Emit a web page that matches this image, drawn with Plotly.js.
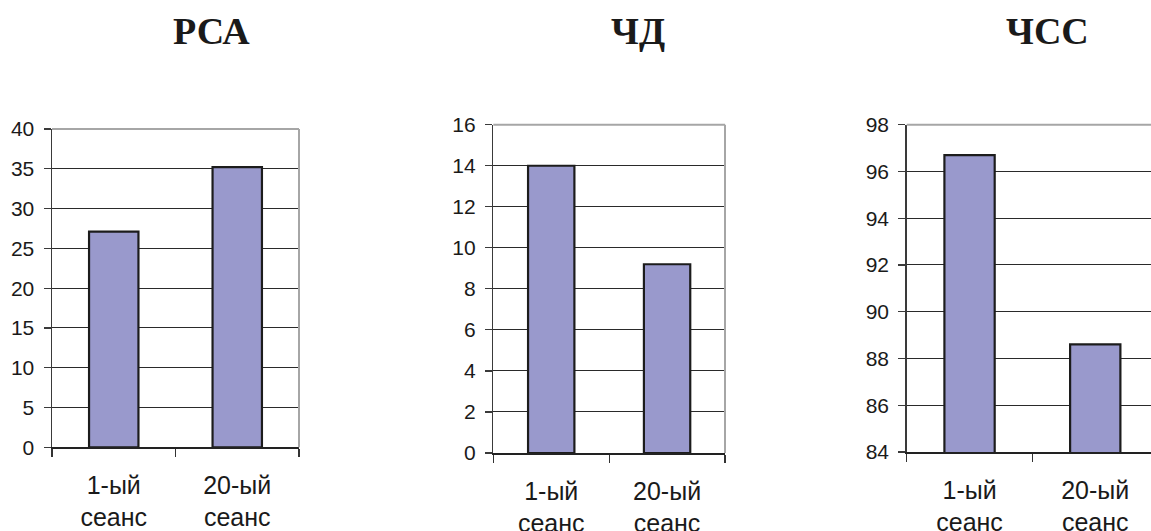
<!DOCTYPE html>
<html>
<head>
<meta charset="utf-8">
<script src="https://cdn.plot.ly/plotly-3.0.1.min.js"></script>
<style>
  html, body { margin: 0; padding: 0; background: #ffffff; }
  #chart { width: 1151px; height: 531px; }
</style>
</head>
<body>
<div id="chart"></div>
<script>
// Sessions compared in each panel
const sessions = ['1-ый<br>сеанс', '20-ый<br>сеанс'];

// Panel titles
const titles = ['РСА', 'ЧД', 'ЧСС'];

// Values per panel (1st session, 20th session)
const valuesRSA = [27.1, 35.2];
const valuesChD = [14.0, 9.2];
const valuesChSS = [96.7, 88.6];

// Value axis ranges and steps
const rangeRSA = [0, 40];
const rangeChD = [0, 16];
const rangeChSS = [84, 98];
const stepRSA = 5;
const stepChD = 2;
const stepChSS = 2;

const W = 1151, H = 531;
const px = v => v / W;
const py = v => (H - v) / H;

const barFill = '#9999cc';
const barEdge = '#1c1c1c';

function barTrace(values, xa, ya) {
  return {
    type: 'bar',
    x: sessions,
    y: values,
    xaxis: xa,
    yaxis: ya,
    width: 0.4,
    marker: { color: barFill, line: { color: barEdge, width: 2.2 } },
    hoverinfo: 'x+y',
    showlegend: false
  };
}

const data = [
  barTrace(valuesRSA, 'x', 'y'),
  barTrace(valuesChD, 'x2', 'y2'),
  barTrace(valuesChSS, 'x3', 'y3')
];

function xAxis(domain, anchor, range) {
  return {
    domain: domain,
    anchor: anchor,
    type: 'category',
    range: range,
    fixedrange: true,
    showline: true,
    linecolor: '#222222',
    linewidth: 1.5,
    ticks: 'outside',
    tickson: 'boundaries',
    ticklen: 8,
    tickwidth: 1.2,
    tickcolor: '#333333',
    ticklabelstandoff: 15,
    showgrid: false,
    tickfont: { family: 'Liberation Sans, Arial, sans-serif', size: 25, color: '#1a1a1a' }
  };
}

function yAxis(domain, anchor, range, step) {
  return {
    domain: domain,
    anchor: anchor,
    range: range,
    dtick: step,
    tick0: range[0],
    fixedrange: true,
    showline: true,
    linecolor: '#3a3a3a',
    linewidth: 1.5,
    ticks: 'outside',
    ticklen: 7,
    tickwidth: 1.2,
    tickcolor: '#3a3a3a',
    ticklabelstandoff: 5,
    showgrid: true,
    gridcolor: '#2a2a2a',
    gridwidth: 1,
    zeroline: false,
    tickfont: { family: 'Liberation Sans, Arial, sans-serif', size: 21, color: '#1a1a1a' }
  };
}

// Grey frame on the top and right of each plot area
function frame(xa, ya, withRight) {
  const s = [{
    type: 'line', xref: xa + ' domain', yref: ya + ' domain',
    x0: 0, x1: 1, y0: 1, y1: 1,
    line: { color: '#a6a6a6', width: 2 }
  }];
  if (withRight) {
    s.push({
      type: 'line', xref: xa + ' domain', yref: ya + ' domain',
      x0: 1, x1: 1, y0: 0, y1: 1,
      line: { color: '#a6a6a6', width: 2 }
    });
  }
  return s;
}

function title(text, xCenter) {
  return {
    text: text,
    xref: 'paper', yref: 'paper',
    x: px(xCenter), y: py(30.5),
    xanchor: 'center', yanchor: 'middle',
    showarrow: false,
    font: { family: 'Liberation Serif, Times New Roman, serif', size: 38, color: '#1a1a1a', weight: 'bold' }
  };
}

const layout = {
  width: W,
  height: H,
  margin: { l: 0, r: 0, t: 0, b: 0, pad: 0 },
  paper_bgcolor: '#ffffff',
  plot_bgcolor: '#ffffff',
  showlegend: false,
  xaxis: xAxis([px(52), px(299)], 'y', [-0.5, 1.5]),
  yaxis: yAxis([py(447.3), py(129)], 'x', rangeRSA, stepRSA),
  xaxis2: xAxis([px(493.3), px(725)], 'y2', [-0.5, 1.5]),
  yaxis2: yAxis([py(453), py(124.7)], 'x2', rangeChD, stepChD),
  xaxis3: xAxis([px(906.7), 1], 'y3', [-0.5, -0.5 + (W - 906.7) / 125.7]),
  yaxis3: yAxis([py(452), py(124.7)], 'x3', rangeChSS, stepChSS),
  shapes: [].concat(frame('x', 'y', true), frame('x2', 'y2', true), frame('x3', 'y3', false)),
  annotations: [
    title(titles[0], 211.7),
    title(titles[1], 637.5),
    title(titles[2], 1047)
  ]
};

Plotly.newPlot('chart', data, layout, { displayModeBar: false, staticPlot: true });
</script>
</body>
</html>
